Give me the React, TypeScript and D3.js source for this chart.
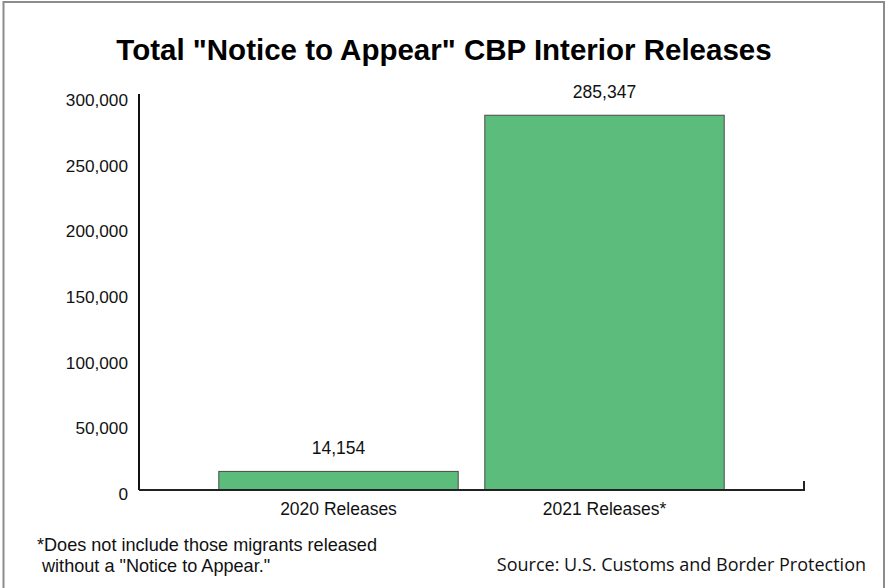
import { scaleBand, scaleLinear, format } from "d3";

const categories = ["2020 Releases", "2021 Releases*"];
const values = [14154, 285347];
const yTicks = [0, 50000, 100000, 150000, 200000, 250000, 300000];

const title = 'Total "Notice to Appear" CBP Interior Releases';
const footnote = ['*Does not include those migrants released', ' without a "Notice to Appear."'];
const source = "Source: U.S. Customs and Border Protection";

export default function App() {
  const width = 886;
  const height = 588;
  const left = 139;
  const right = 804;
  const bottom = 490;
  const top = 96;

  const x = scaleBand<string>()
    .domain(categories)
    .range([left, right])
    .paddingInner(0.1)
    .paddingOuter(0.3);
  const y = scaleLinear().domain([0, 300000]).range([bottom, top]);
  const fmt = format(",");

  const font = "Arial, 'Liberation Sans', Helvetica, sans-serif";

  return (
    <svg
      width={width}
      height={height}
      style={{ position: "absolute", left: 0, top: 0, background: "#fff" }}
      fontFamily={font}
    >
      {/* frame */}
      <path d={`M3.5,${height} V2 H884 V${height}`} fill="none" stroke="#8c8c8c" strokeWidth={2} />

      <text x={444} y={60} textAnchor="middle" fontSize={29.5} fontWeight="bold" fill="#000">
        {title}
      </text>

      {/* bars */}
      {categories.map((c, i) => (
        <g key={c}>
          <rect
            x={x(c)}
            y={y(values[i])}
            width={x.bandwidth()}
            height={bottom - y(values[i])}
            fill="#5bbc7b"
            stroke="#4a4a4a"
            strokeWidth={1}
          />
          <text
            x={(x(c) as number) + x.bandwidth() / 2}
            y={y(values[i]) - 17}
            textAnchor="middle"
            fontSize={17.5}
            fill="#111"
          >
            {fmt(values[i])}
          </text>
          <text
            x={(x(c) as number) + x.bandwidth() / 2}
            y={515}
            textAnchor="middle"
            fontSize={17.5}
            fill="#111"
          >
            {c}
          </text>
        </g>
      ))}

      {/* axes */}
      <line x1={left} x2={left} y1={94} y2={bottom} stroke="#111" strokeWidth={2} />
      <path d={`M${left},${bottom} H${right} V${bottom - 9}`} fill="none" stroke="#222" strokeWidth={2} />

      {yTicks.map((t) => (
        <text key={t} x={128} y={y(t) + 10} textAnchor="end" fontSize={17.2} fill="#111">
          {fmt(t)}
        </text>
      ))}

      {footnote.map((line, i) => (
        <text key={i} x={37} y={551 + i * 21} fontSize={18.1} fill="#111" style={{ whiteSpace: "pre" }}>
          {line}
        </text>
      ))}

      <text x={866} y={571} textAnchor="end" fontSize={18} fill="#111" fontFamily="'Open Sans', 'Noto Sans', sans-serif">
        {source}
      </text>
    </svg>
  );
}
